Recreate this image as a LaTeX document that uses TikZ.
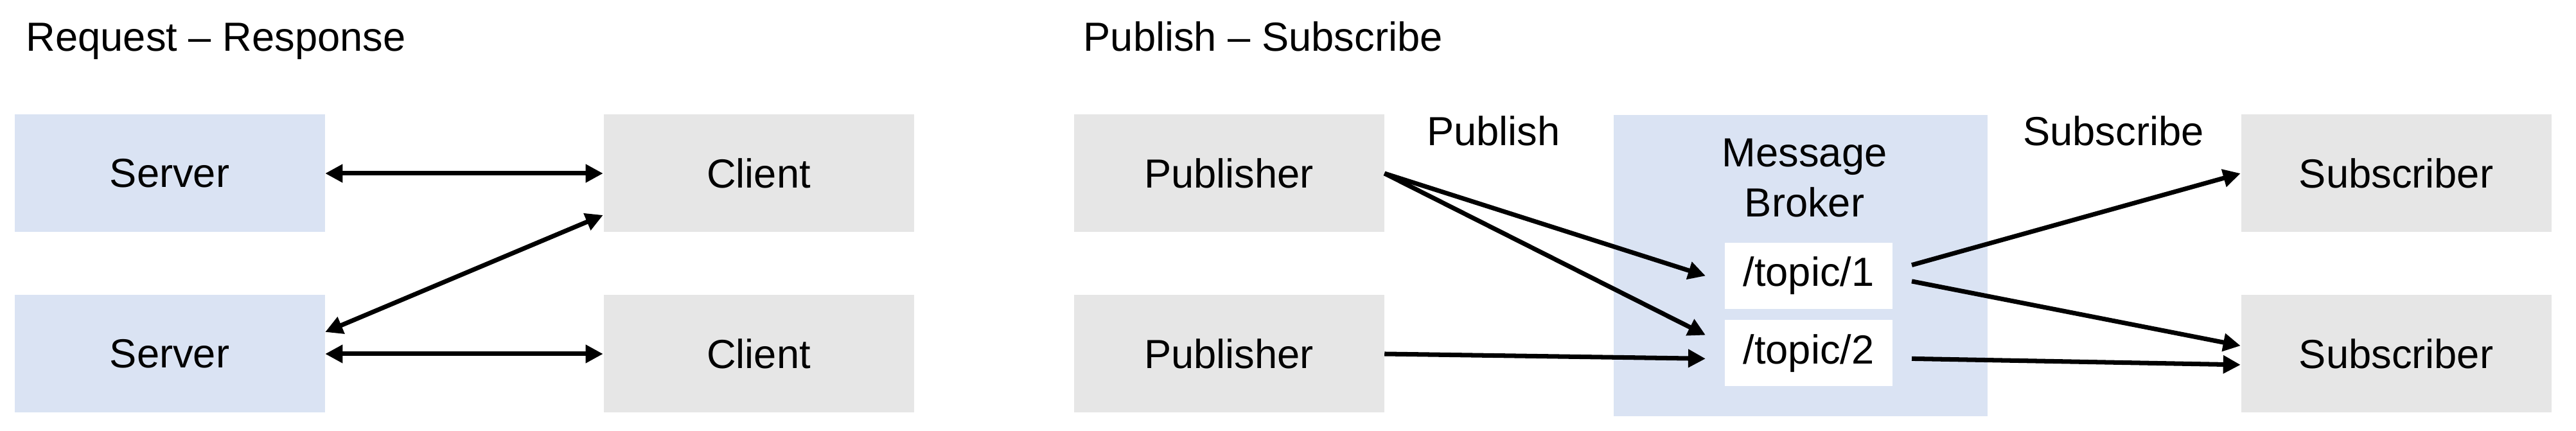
\documentclass[tikz,border=0pt]{standalone}
\usepackage{fontspec}
\setmainfont{Liberation Sans}
\usepackage{tikz}
\usetikzlibrary{arrows.meta}
\definecolor{azulclaro}{HTML}{DAE3F3}
\definecolor{grisclaro}{HTML}{E6E6E6}

\begin{document}
\begin{tikzpicture}[font=\fontsize{18}{22.2}\selectfont,
        caja/.style={rectangle, inner sep=0pt, minimum width=4.83cm, minimum height=1.83cm, align=center},
        tema/.style={rectangle, fill=white, inner sep=0pt, minimum width=2.61cm, minimum height=1.03cm, outer xsep=0.3cm},
        titulo/.style={anchor=base west, inner sep=0pt},
        etiqueta/.style={anchor=base, inner sep=0pt},
        flecha/.style={->, line width=2pt, >={Triangle[length=7.7pt, width=7.7pt]}},
        doble/.style={<->, line width=2pt, >={Triangle[length=7.7pt, width=7.7pt]}}]
        \useasboundingbox (0,0) rectangle (40.10,6.71);
        \node[titulo] (rr) at (0.40,5.91) {Request – Response};
        \node[titulo] (ps) at (16.86,5.91) {Publish – Subscribe};
        \node[caja, fill=azulclaro] (s1) at (2.64,4.01) {Server};
        \node[caja, fill=grisclaro] (c1) at (11.81,4.01) {Client};
        \node[caja, fill=azulclaro] (s2) at (2.64,1.20) {Server};
        \node[caja, fill=grisclaro] (c2) at (11.81,1.20) {Client};
        \draw[doble] (s1) -- (c1);
        \draw[doble] (s2) -- (c2);
        \draw[doble] (s2.8) -- (c1.195);
        \node[caja, fill=grisclaro] (p1) at (19.13,4.01) {Publisher};
        \node[caja, fill=grisclaro] (p2) at (19.13,1.20) {Publisher};
        \node[rectangle, fill=azulclaro, inner sep=0pt, minimum width=5.82cm, minimum height=4.69cm] (b) at (28.03,2.575) {};
        \node[anchor=north, inner sep=0pt, align=center] (bt) at (28.09,4.56) {Message\\Broker};
        \node[tema] (t1) at (28.155,2.415) {/topic/1};
        \node[tema] (t2) at (28.155,1.21) {/topic/2};
        \node[caja, fill=grisclaro] (sub1) at (37.30,4.01) {Subscriber};
        \node[caja, fill=grisclaro] (sub2) at (37.30,1.20) {Subscriber};
        \node[etiqueta] (lp) at (23.25,4.44) {Publish};
        \node[etiqueta] (ls) at (32.90,4.44) {Subscribe};
        \draw[flecha] (p1.east) -- (t1.west);
        \draw[flecha] (p1.east) -- (t2.170);
        \draw[flecha] (p2.east) -- (t2.183);
        \draw[flecha] (t1.6) -- (sub1.west);
        \draw[flecha] (t1.-3) -- (sub2.177);
        \draw[flecha] (t2.-3) -- (sub2.184);
    \end{tikzpicture}
\end{document}
